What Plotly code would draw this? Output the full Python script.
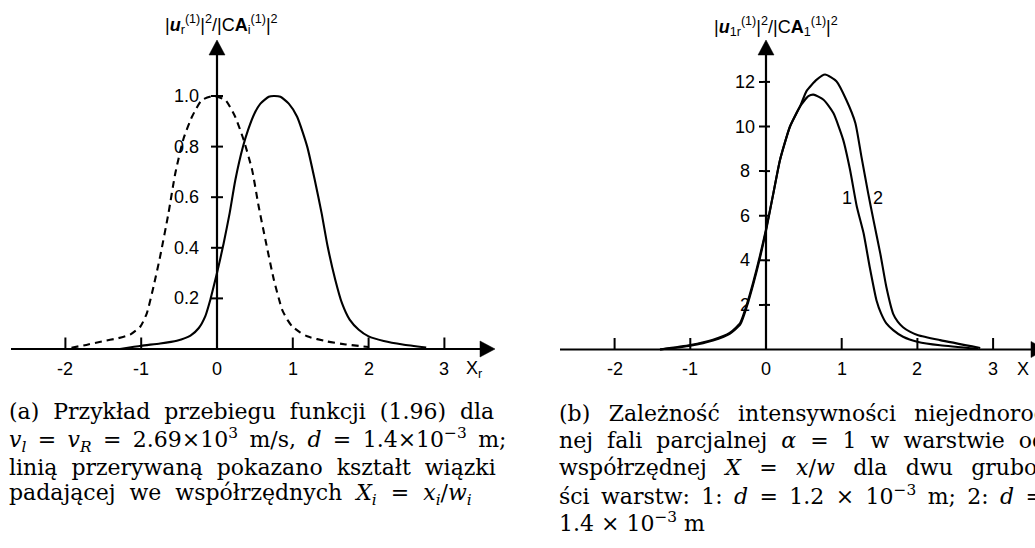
import plotly.graph_objects as go

W, H = 1035, 548

# ---------------- data ----------------
# panel (a): solid = reflected beam, dashed = incident beam
a_solid_x = [-1.28, -1.0, -0.75, -0.53, -0.35, -0.24, -0.154, -0.088, -0.044, 0.0, 0.088,
             0.167, 0.242, 0.343, 0.41, 0.493, 0.573, 0.683, 0.75, 0.837, 0.947, 1.057, 1.19,
             1.29, 1.38, 1.46, 1.56, 1.65, 1.75, 1.87, 2.0, 2.2, 2.45, 2.76]
a_solid_y = [0.0, 0.013, 0.022, 0.033, 0.053, 0.083, 0.13, 0.195, 0.247, 0.30, 0.418,
             0.537, 0.668, 0.80, 0.866, 0.93, 0.97, 0.997, 1.0, 0.997, 0.97, 0.918, 0.80,
             0.668, 0.537, 0.405, 0.274, 0.18, 0.116, 0.076, 0.05, 0.032, 0.018, 0.006]
a_dash_x = [-1.92, -1.7, -1.52, -1.3, -1.145, -1.01, -0.925, -0.837, -0.75, -0.64, -0.55,
            -0.44, -0.33, -0.2, -0.044, 0.11, 0.24, 0.352, 0.463, 0.55, 0.64, 0.75, 0.86,
            0.93, 0.99, 1.1, 1.19, 1.45, 1.7, 2.0]
a_dash_y = [0.005, 0.018, 0.03, 0.043, 0.057, 0.089, 0.142, 0.247, 0.366, 0.537, 0.695,
            0.833, 0.918, 0.984, 1.0, 0.984, 0.918, 0.826, 0.708, 0.563, 0.43, 0.274, 0.155,
            0.115, 0.09, 0.065, 0.05, 0.03, 0.018, 0.008]

# panel (b): curve 1 (d = 1.2e-3 m) and curve 2 (d = 1.4e-3 m)
b1_x = [-1.4, -1.0, -0.7, -0.48, -0.34, -0.26, -0.17, -0.08, 0.0, 0.097, 0.185, 0.317, 0.45,
        0.56, 0.626, 0.76, 0.89, 1.02, 1.11, 1.2, 1.29, 1.37, 1.46, 1.52, 1.59, 1.68, 1.81,
        2.01, 2.3, 2.8]
b1_y = [0.0, 0.17, 0.40, 0.70, 1.12, 1.85, 2.9, 4.1, 5.32, 7.0, 8.5, 10.0, 10.9,
        11.36, 11.43, 11.2, 10.6, 9.4, 8.06, 6.4, 5.2, 3.7, 2.2, 1.62, 1.17, 0.87, 0.57,
        0.34, 0.19, 0.03]
b2_x = [-1.4, -1.0, -0.7, -0.48, -0.34, -0.26, -0.17, -0.08, 0.0, 0.097, 0.185, 0.317, 0.45,
        0.537, 0.67, 0.78, 0.93, 1.06, 1.18, 1.26, 1.35, 1.42, 1.51, 1.59, 1.68, 1.74, 1.81,
        1.9, 2.01, 2.3, 2.83]
b2_y = [0.0, 0.2, 0.44, 0.74, 1.2, 1.95, 3.0, 4.2, 5.38, 7.0, 8.5, 10.0, 10.9,
        11.6, 12.1, 12.33, 12.03, 11.2, 10.16, 8.66, 7.0, 5.8, 4.3, 2.8, 1.6, 1.25, 1.0,
        0.8, 0.64, 0.42, 0.07]

# ticks
a_xtick_vals = [-2, -1, 0, 1, 2, 3]
a_xtick_text = ["-2", "-1", "0", "1", "2", "3"]
a_ytick_vals = [0.2, 0.4, 0.6, 0.8, 1.0]
a_ytick_text = ["0.2", "0.4", "0.6", "0.8", "1.0"]
b_xtick_vals = [-2, -1, 0, 1, 2, 3]
b_xtick_text = ["-2", "-1", "0", "1", "2", "3"]
b_ytick_vals = [2, 4, 6, 8, 10, 12]
b_ytick_text = ["2", "4", "6", "8", "10", "12"]

a_ylabel = ("|<b><i>u</i></b><sub>r</sub><sup>(1)</sup>|<sup>2</sup>/|C<b>A</b>"
            "<sub>i</sub><sup>(1)</sup>|<sup>2</sup>")
b_ylabel = ("|<b><i>u</i></b><sub>1r</sub><sup>(1)</sup>|<sup>2</sup>/|C<b>A</b>"
            "<sub>1</sub><sup>(1)</sup>|<sup>2</sup>")
a_xlabel = "X<sub>r</sub>"
b_xlabel = "X"

cap_a = [
    "(a) Przykład przebiegu funkcji (1.96) dla",
    "<i>v</i><sub><i>l</i></sub> = <i>v</i><sub><i>R</i></sub> = 2.69×10<sup>3</sup> m/s, "
    "<i>d</i> = 1.4×10<sup>−3</sup> m;",
    "linią przerywaną pokazano kształt wiązki",
    "padającej we współrzędnych <i>X</i><sub><i>i</i></sub> = <i>x</i><sub><i>i</i></sub>/"
    "<i>w</i><sub><i>i</i></sub>",
]
cap_b = [
    "(b) Zależność intensywności niejednorod-",
    "nej fali parcjalnej <i>α</i> = 1 w warstwie od",
    "współrzędnej <i>X</i> = <i>x</i>/<i>w</i> dla dwu grubo-",
    "ści warstw: 1: <i>d</i> = 1.2 × 10<sup>−3</sup> m; 2: <i>d</i> =",
    "1.4 × 10<sup>−3</sup> m",
]
# extra space added at each word gap, emulating the justified lines
NB, TH = "\u00a0", "\u2009"
cap_a_extra = [NB, TH, NB, NB]
cap_b_extra = [NB + TH, NB, NB + TH, TH, ""]

# ---------------- geometry (pixel layout) ----------------
A = dict(ox=217.0, oy=349.0, sx=75.8, sy=253.0, d0=0.0, d1=517.5, xs="x", ys="y")
B = dict(ox=766.0, oy=349.5, sx=75.7, sy=22.3, d0=517.5, d1=1035.0, xs="x2", ys="y2")


def xr(P):
    return [(P["d0"] - P["ox"]) / P["sx"], (P["d1"] - P["ox"]) / P["sx"]]


def yr(P):
    return [-(H - P["oy"]) / P["sy"], P["oy"] / P["sy"]]


def px2x(P, px):
    return (px - P["ox"]) / P["sx"]


def px2y(P, py):
    return (P["oy"] - py) / P["sy"]


fig = go.Figure()
LW = 2.1
SM = 0.55
fig.add_trace(go.Scatter(x=a_dash_x, y=a_dash_y, mode="lines", xaxis="x", yaxis="y",
                         line=dict(color="black", width=LW, dash="7px,5px", shape="spline",
                                   smoothing=SM), showlegend=False))
fig.add_trace(go.Scatter(x=a_solid_x, y=a_solid_y, mode="lines", xaxis="x", yaxis="y",
                         line=dict(color="black", width=LW, shape="spline", smoothing=SM),
                         showlegend=False))
fig.add_trace(go.Scatter(x=b1_x, y=b1_y, mode="lines", xaxis="x2", yaxis="y2",
                         line=dict(color="black", width=LW, shape="spline", smoothing=SM),
                         showlegend=False))
fig.add_trace(go.Scatter(x=b2_x, y=b2_y, mode="lines", xaxis="x2", yaxis="y2",
                         line=dict(color="black", width=LW, shape="spline", smoothing=SM),
                         showlegend=False))

shapes = []
annots = []
TICKFONT = dict(family="Liberation Sans, Arial, sans-serif", size=18, color="black")


def axes(P, x_start_px, x_tip_px, y_tip_px, xtick_vals, xtick_text, ytick_vals, ytick_text,
         ytick_left_px, ytick_right_px, ylab_x_px, ylab_anchor, xlabel, xlabel_px, ylabel,
         ylabel_px):
    xs, ys = P["xs"], P["ys"]
    ah = 15.0  # arrow length px
    aw = 8.0   # arrow half width px
    shapes.append(dict(type="line", xref=xs, yref=ys, x0=px2x(P, x_start_px), y0=0,
                       x1=px2x(P, x_tip_px - ah + 1), y1=0,
                       line=dict(color="black", width=2.2)))
    tx, bx = px2x(P, x_tip_px), px2x(P, x_tip_px - ah)
    dy = aw / P["sy"]
    shapes.append(dict(type="path", xref=xs, yref=ys,
                       path=f"M {tx} 0 L {bx} {dy} L {bx} {-dy} Z",
                       fillcolor="black", line=dict(color="black", width=0.5)))
    shapes.append(dict(type="line", xref=xs, yref=ys, x0=0, y0=0, x1=0,
                       y1=px2y(P, y_tip_px + ah - 1), line=dict(color="black", width=2.2)))
    ty, by = px2y(P, y_tip_px), px2y(P, y_tip_px + ah)
    dx = aw / P["sx"]
    shapes.append(dict(type="path", xref=xs, yref=ys,
                       path=f"M 0 {ty} L {dx} {by} L {-dx} {by} Z",
                       fillcolor="black", line=dict(color="black", width=0.5)))
    for v, t in zip(xtick_vals, xtick_text):
        if v != 0:
            shapes.append(dict(type="line", xref=xs, yref=ys, x0=v, x1=v, y0=0,
                               y1=11.5 / P["sy"], line=dict(color="black", width=2)))
        annots.append(dict(x=v, y=px2y(P, P["oy"] + 19.5), xref=xs, yref=ys, text=t,
                           showarrow=False, xanchor="center", yanchor="middle",
                           font=TICKFONT))
    for v, t in zip(ytick_vals, ytick_text):
        shapes.append(dict(type="line", xref=xs, yref=ys, x0=-ytick_left_px / P["sx"],
                           x1=ytick_right_px / P["sx"], y0=v, y1=v,
                           line=dict(color="black", width=2)))
        annots.append(dict(x=px2x(P, ylab_x_px), y=v, xref=xs, yref=ys, text=t,
                           showarrow=False, xanchor=ylab_anchor, yanchor="middle",
                           font=TICKFONT))
    annots.append(dict(x=px2x(P, xlabel_px[0]), y=px2y(P, xlabel_px[1]), xref=xs, yref=ys,
                       text=xlabel, showarrow=False, xanchor="left", yanchor="middle",
                       font=TICKFONT))
    annots.append(dict(x=px2x(P, ylabel_px[0]), y=px2y(P, ylabel_px[1]), xref=xs, yref=ys,
                       text=ylabel, showarrow=False, xanchor="center", yanchor="middle",
                       font=dict(family="Liberation Sans, Arial, sans-serif", size=18,
                                 color="black")))


axes(A, 11, 495, 40, a_xtick_vals, a_xtick_text, a_ytick_vals, a_ytick_text,
     6, 6, 201, "right", a_xlabel, (464, 369), a_ylabel, (221, 24))
axes(B, 560, 1046, 40, b_xtick_vals, b_xtick_text, b_ytick_vals, b_ytick_text,
     7, 4, 745, "center", b_xlabel, (1015, 369), b_ylabel, (775.5, 26))

curve_labels = ["1", "2"]
curve_label_pos = [(1.066, 6.78), (1.48, 6.8)]
for t, (lx, ly) in zip(curve_labels, curve_label_pos):
    annots.append(dict(x=lx, y=ly, xref="x2", yref="y2", text=t, showarrow=False,
                       xanchor="center", yanchor="middle", font=TICKFONT))

CAPFONT = dict(family="DejaVu Serif, serif", size=22, color="black")


def justify(line, extra):
    return (" " + extra).join(line.split(" "))


cap_a_y = [411.7, 440.0, 467.0, 494.5]
cap_b_y = [413.0, 440.0, 467.0, 494.5, 521.5]
for t, k, yy in zip(cap_a, cap_a_extra, cap_a_y):
    annots.append(dict(x=7 / W, y=1 - yy / H, xref="paper", yref="paper",
                       text=justify(t, k), showarrow=False, xanchor="left",
                       yanchor="middle", font=CAPFONT))
for t, k, yy in zip(cap_b, cap_b_extra, cap_b_y):
    annots.append(dict(x=557 / W, y=1 - yy / H, xref="paper", yref="paper",
                       text=justify(t, k), showarrow=False, xanchor="left",
                       yanchor="middle", font=CAPFONT))

fig.update_layout(
    width=W, height=H, margin=dict(l=0, r=0, t=0, b=0),
    paper_bgcolor="white", plot_bgcolor="white",
    xaxis=dict(domain=[A["d0"] / W, A["d1"] / W], range=xr(A), visible=False, fixedrange=True),
    yaxis=dict(domain=[0, 1], range=yr(A), visible=False, fixedrange=True, anchor="x"),
    xaxis2=dict(domain=[B["d0"] / W, B["d1"] / W], range=xr(B), visible=False,
                fixedrange=True, anchor="y2"),
    yaxis2=dict(domain=[0, 1], range=yr(B), visible=False, fixedrange=True, anchor="x2"),
    shapes=shapes, annotations=annots, showlegend=False,
)

fig.write_html("out.html", config={"displayModeBar": False})
